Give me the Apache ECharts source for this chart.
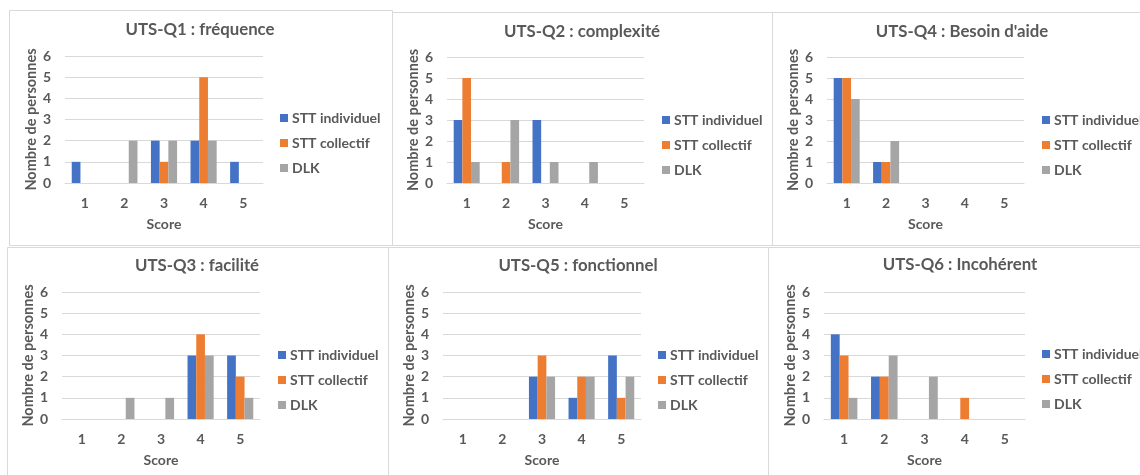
<!DOCTYPE html>
<html>
<head>
<meta charset="utf-8">
<script src="https://cdn.jsdelivr.net/npm/echarts@6/dist/echarts.min.js"></script>
<style>
  html, body { margin: 0; padding: 0; background: #ffffff; }
  #chart { width: 1140px; height: 475px; }
</style>
</head>
<body>
<div id="chart"></div>
<script>
// ---- Data ----
const categories = ['1', '2', '3', '4', '5'];
const seriesNames = ['STT individuel', 'STT collectif', 'DLK'];
const yTicks = [0, 1, 2, 3, 4, 5, 6];

const chartTitles = [
  'UTS-Q1 : fréquence',
  'UTS-Q2 : complexité',
  "UTS-Q4 : Besoin d'aide",
  'UTS-Q3 : facilité',
  'UTS-Q5 : fonctionnel',
  'UTS-Q6 : Incohérent'
];

const q1Individuel = [1, 0, 2, 2, 1];
const q1Collectif  = [0, 0, 1, 5, 0];
const q1DLK        = [0, 2, 2, 2, 0];

const q2Individuel = [3, 0, 3, 0, 0];
const q2Collectif  = [5, 1, 0, 0, 0];
const q2DLK        = [1, 3, 1, 1, 0];

const q4Individuel = [5, 1, 0, 0, 0];
const q4Collectif  = [5, 1, 0, 0, 0];
const q4DLK        = [4, 2, 0, 0, 0];

const q3Individuel = [0, 0, 0, 3, 3];
const q3Collectif  = [0, 0, 0, 4, 2];
const q3DLK        = [0, 1, 1, 3, 1];

const q5Individuel = [0, 0, 2, 1, 3];
const q5Collectif  = [0, 0, 3, 2, 1];
const q5DLK        = [0, 0, 2, 2, 2];

const q6Individuel = [4, 2, 0, 0, 0];
const q6Collectif  = [3, 2, 0, 1, 0];
const q6DLK        = [1, 3, 2, 0, 0];

const panelData = [
  [q1Individuel, q1Collectif, q1DLK],
  [q2Individuel, q2Collectif, q2DLK],
  [q4Individuel, q4Collectif, q4DLK],
  [q3Individuel, q3Collectif, q3DLK],
  [q5Individuel, q5Collectif, q5DLK],
  [q6Individuel, q6Collectif, q6DLK]
];

// ---- Layout (positions/styles) ----
const colors = ['#4472C4', '#ED7D31', '#A5A5A5'];
const textColor = '#595959';
const fontFamily = 'Lato, "Open Sans", sans-serif';

const layout = [
  { grid: [65, 56, 198, 127],  title: [200, 21], legend: [280, 110], frame: [9, 10, 383, 235] },
  { grid: [447, 57, 197, 126], title: [582, 23], legend: [662, 112], frame: [392, 12, 380, 233] },
  { grid: [827, 57, 197, 126], title: [962, 23], legend: [1042, 112], frame: [772, 12, 400, 233] },
  { grid: [62, 292, 198, 127], title: [197, 257], legend: [278, 347], frame: [7, 247, 381, 260] },
  { grid: [443, 292, 198, 127], title: [578, 257], legend: [658, 347], frame: [388, 247, 380, 260] },
  { grid: [824, 292, 201, 127], title: [960, 256], legend: [1042, 346], frame: [768, 247, 400, 260] }
];

const grids = [], xAxes = [], yAxes = [], titles = [], legends = [], series = [], graphics = [];

layout.forEach((p, i) => {
  grids.push({ left: p.grid[0], top: p.grid[1], width: p.grid[2], height: p.grid[3], containLabel: false });
  xAxes.push({
    type: 'category', gridIndex: i, data: categories,
    name: 'Score', nameLocation: 'middle', nameGap: 34,
    nameTextStyle: { color: textColor, fontSize: 14, fontWeight: 'bold', fontFamily },
    axisLine: { show: true, lineStyle: { color: '#d9d9d9', width: 1 } },
    axisTick: { show: false },
    axisLabel: { color: textColor, fontSize: 14, fontWeight: 'bold', fontFamily, margin: 13 },
    splitLine: { show: false }
  });
  yAxes.push({
    type: 'value', gridIndex: i, min: yTicks[0], max: yTicks[yTicks.length - 1], interval: 1,
    name: 'Nombre de personnes', nameLocation: 'middle', nameGap: 24, nameRotate: 90,
    nameTextStyle: { color: textColor, fontSize: 14.5, fontWeight: 'bold', fontFamily },
    axisLine: { show: false }, axisTick: { show: false },
    axisLabel: { color: textColor, fontSize: 14, fontWeight: 'bold', fontFamily, margin: 14 },
    splitLine: { show: true, lineStyle: { color: '#d9d9d9', width: 1 } }
  });
  titles.push({
    text: chartTitles[i], left: p.title[0], top: p.title[1], textAlign: 'center', padding: 0,
    textStyle: { color: textColor, fontSize: 16.8, fontWeight: 'bold', fontFamily }
  });
  legends.push({
    data: seriesNames, orient: 'vertical', left: p.legend[0], top: p.legend[1], padding: 0,
    icon: 'rect', itemWidth: 8, itemHeight: 8, itemGap: 9, selectedMode: false,
    textStyle: { color: textColor, fontSize: 14, fontWeight: 'bold', fontFamily, lineHeight: 16, padding: [0, 0, 0, -1] }
  });
  seriesNames.forEach((name, s) => {
    series.push({
      type: 'bar', name, xAxisIndex: i, yAxisIndex: i, data: panelData[i][s],
      itemStyle: { color: colors[s] }, barGap: '0%', barCategoryGap: '34%',
      animation: false
    });
  });
  graphics.push({
    type: 'rect', silent: true, z: -1,
    shape: { x: p.frame[0] + 0.5, y: p.frame[1] + 0.5, width: p.frame[2], height: p.frame[3] },
    style: { fill: 'none', stroke: '#d9d9d9', lineWidth: 1 }
  });
});

const chart = echarts.init(document.getElementById('chart'), null, { renderer: 'canvas' });
chart.setOption({
  backgroundColor: '#ffffff',
  animation: false,
  color: colors,
  title: titles,
  legend: legends,
  grid: grids,
  xAxis: xAxes,
  yAxis: yAxes,
  series: series,
  graphic: graphics
});
</script>
</body>
</html>
